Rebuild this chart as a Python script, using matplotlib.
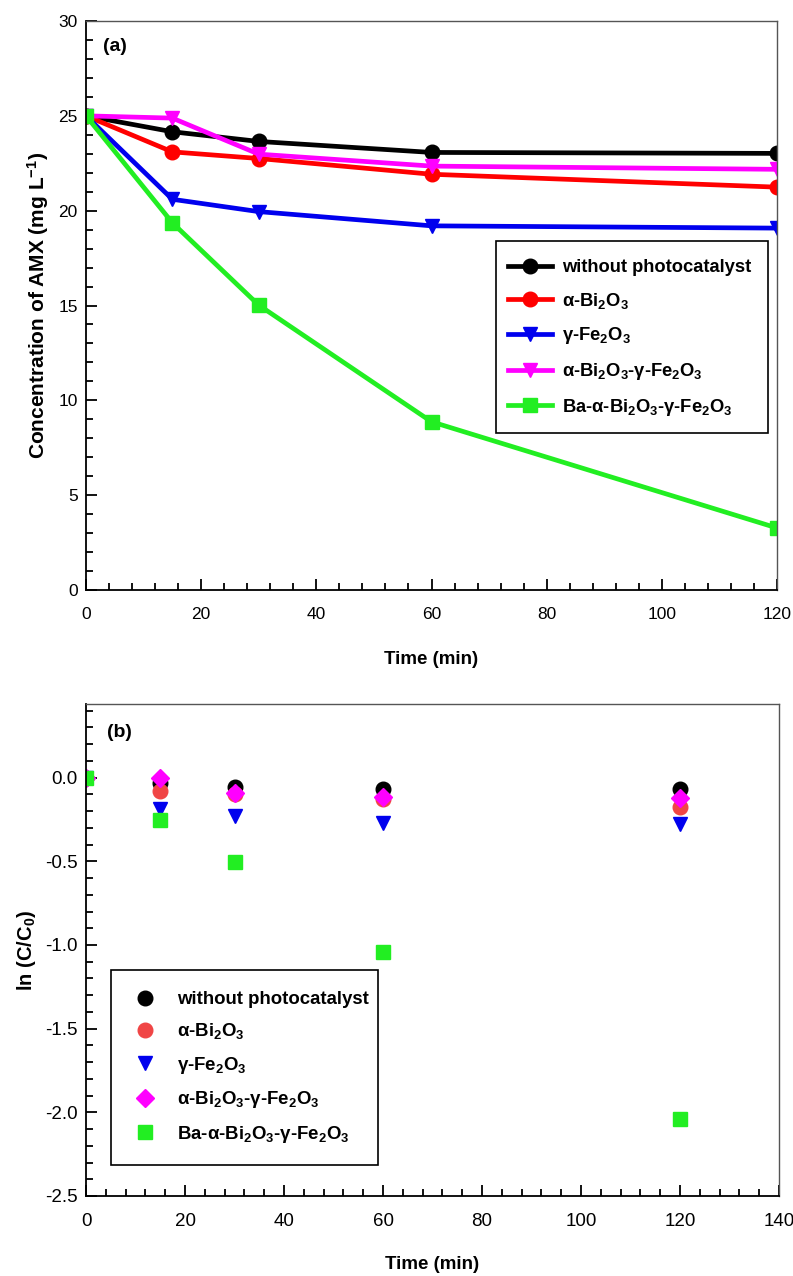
import matplotlib
matplotlib.use("Agg")
import matplotlib.pyplot as plt
from matplotlib.ticker import MultipleLocator
from matplotlib.patches import Rectangle

plt.rcParams['font.family'] = ['Liberation Sans', 'DejaVu Sans']
plt.rcParams['mathtext.fontset'] = 'custom'
plt.rcParams['mathtext.rm'] = 'Liberation Sans'
plt.rcParams['mathtext.bf'] = 'Liberation Sans:bold'
plt.rcParams['mathtext.it'] = 'Liberation Sans:italic'
plt.rcParams['mathtext.default'] = 'bf'

# ---- data ----
time = [0, 15, 30, 60, 120]
labels = ['without photocatalyst',
          r'$\alpha$-Bi$_2$O$_3$',
          r'$\gamma$-Fe$_2$O$_3$',
          r'$\alpha$-Bi$_2$O$_3$-$\gamma$-Fe$_2$O$_3$',
          r'Ba-$\alpha$-Bi$_2$O$_3$-$\gamma$-Fe$_2$O$_3$']

conc_none = [25.0, 24.16, 23.65, 23.07, 23.02]
conc_bi = [25.0, 23.1, 22.75, 21.92, 21.24]
conc_fe = [25.0, 20.6, 19.95, 19.2, 19.08]
conc_bife = [25.0, 24.88, 22.98, 22.35, 22.18]
conc_ba = [25.0, 19.36, 15.02, 8.87, 3.27]

ln_none = [0.0, -0.03, -0.055, -0.07, -0.07]
ln_bi = [0.0, -0.08, -0.095, -0.13, -0.175]
ln_fe = [0.0, -0.19, -0.23, -0.27, -0.28]
ln_bife = [0.0, 0.0, -0.09, -0.115, -0.12]
ln_ba = [0.0, -0.255, -0.505, -1.04, -2.04]

line_colors = ['#000000', '#ff0000', '#0000ee', '#ff00ff', '#22ee22']
scatter_colors = ['#000000', '#f04545', '#0000ee', '#ff00ff', '#22ee22']
line_markers = ['o', 'o', 'v', 'v', 's']
scatter_markers = ['o', 'o', 'v', 'D', 's']

W, H = 793, 1276
fig = plt.figure(figsize=(W / 100, H / 100), dpi=100)

def px_axes(l, t, r, b):
    return fig.add_axes([l / W, 1 - b / H, (r - l) / W, (b - t) / H])

def style(ax, size):
    for s in ['left', 'bottom']:
        ax.spines[s].set_color('black')
        ax.spines[s].set_linewidth(1.3)
    for s in ['top', 'right']:
        ax.spines[s].set_color('#555555')
        ax.spines[s].set_linewidth(1.0)
    ax.tick_params(which='both', direction='in', top=False, right=False,
                   labelsize=size, width=1.3)
    ax.tick_params(axis='x', which='both', pad=12)
    ax.tick_params(axis='y', which='both', pad=6)
    ax.tick_params(which='major', length=8)
    ax.tick_params(which='minor', length=5)

def frame_box(ax, l, t, r, b, ax_px):
    al, at, ar, ab = ax_px
    x0 = (l - al) / (ar - al)
    y0 = (ab - b) / (ab - at)
    ax.add_patch(Rectangle((x0, y0), (r - l) / (ar - al), (b - t) / (ab - at),
                           transform=ax.transAxes, facecolor='white',
                           edgecolor='black', lw=1.2, zorder=4))

# ---- panel (a) ----
A1 = (86, 21, 777, 590)
ax1 = px_axes(*A1)
series_a = [conc_none, conc_bi, conc_fe, conc_bife, conc_ba]
for y, c, m, lab in zip(series_a, line_colors, line_markers, labels):
    ax1.plot(time, y, color=c, marker=m, lw=3.4, ms=10.5, label=lab)
ax1.set_xlim(0, 120)
ax1.set_ylim(0, 30)
ax1.xaxis.set_major_locator(MultipleLocator(20))
ax1.xaxis.set_minor_locator(MultipleLocator(4))
ax1.yaxis.set_major_locator(MultipleLocator(5))
ax1.yaxis.set_minor_locator(MultipleLocator(1))
style(ax1, 12.5)
ax1.set_xlabel('Time (min)', fontsize=13.5, fontweight='bold', labelpad=21)
ax1.set_ylabel(r'Concentration of AMX (mg L$^{-1}$)', fontsize=15,
               fontweight='bold', labelpad=5)
ax1.text(0.025, 0.955, '(a)', transform=ax1.transAxes, fontsize=14,
         fontweight='bold', va='center', ha='left')
frame_box(ax1, 496, 241, 768, 433, A1)
leg1 = ax1.legend(loc='upper left', bbox_to_anchor=((508 - 86) / 691, (590 - 259) / 569),
                  prop={'weight': 'bold', 'size': 13.2},
                  frameon=False, handlelength=2.4, labelspacing=0.8,
                  borderpad=0, handletextpad=0.55, borderaxespad=0)
leg1.set_zorder(5)

# ---- panel (b) ----
A2 = (86, 704, 779, 1196)
ax2 = px_axes(*A2)
series_b = [ln_none, ln_bi, ln_fe, ln_bife, ln_ba]
for y, c, m, lab in zip(series_b, scatter_colors, scatter_markers, labels):
    ms = 9.5 if m == 'D' else 10.5
    ax2.plot(time, y, ls='none', color=c, marker=m, ms=ms, label=lab)
ax2.set_xlim(0, 140)
ax2.set_ylim(-2.5, 0.44)
ax2.xaxis.set_major_locator(MultipleLocator(20))
ax2.xaxis.set_minor_locator(MultipleLocator(4))
ax2.yaxis.set_major_locator(MultipleLocator(0.5))
ax2.yaxis.set_minor_locator(MultipleLocator(0.1))
ax2.yaxis.set_major_formatter(plt.FuncFormatter(lambda v, p: f'{v:.1f}'))
style(ax2, 13.5)
ax2.set_xlabel('Time (min)', fontsize=13.5, fontweight='bold', labelpad=19)
ax2.set_ylabel(r'ln (C/C$_0$)', fontsize=14.5, fontweight='bold', labelpad=5)
ax2.text(0.03, 0.943, '(b)', transform=ax2.transAxes, fontsize=14,
         fontweight='bold', va='center', ha='left')
frame_box(ax2, 111, 970, 378, 1165, A2)
leg2 = ax2.legend(loc='upper left', bbox_to_anchor=((132 - 86) / 693, (1196 - 991) / 492),
                  prop={'weight': 'bold', 'size': 13.4},
                  frameon=False, handlelength=1.4, labelspacing=0.72,
                  borderpad=0, handletextpad=1.0, borderaxespad=0)
leg2.set_zorder(5)

fig.savefig('out.png', dpi=100)
